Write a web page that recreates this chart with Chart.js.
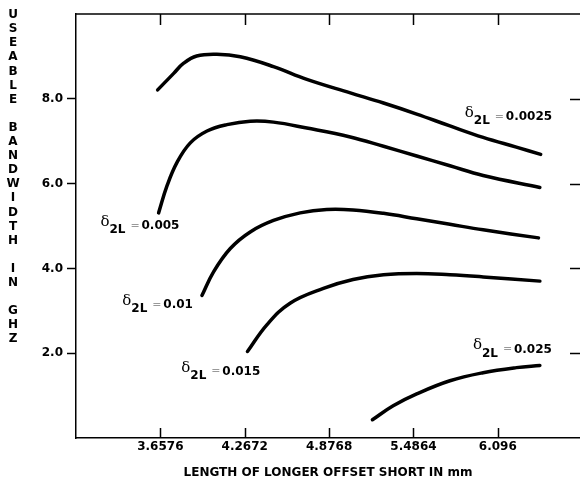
<!DOCTYPE html>
<html>
<head>
<meta charset="utf-8">
<script src="https://cdn.jsdelivr.net/npm/chart.js@4.4.1/dist/chart.umd.min.js"></script>
<style>
  body { margin: 0; background: #fff; }
  #wrap { width: 580px; height: 489px; }
</style>
</head>
<body>
<div id="wrap"><canvas id="chart" width="580" height="489"></canvas></div>
<script>
// ---- data ----
const xTicks = [3.6576, 4.2672, 4.8768, 5.4864, 6.096];
const xTickLabels = ['3.6576', '4.2672', '4.8768', '5.4864', '6.096'];
const yTicks = [2, 4, 6, 8];
const yTickLabels = ['2.0', '4.0', '6.0', '8.0'];

const curveNames = ['0.0025', '0.005', '0.01', '0.015', '0.025'];

const x0025 = [3.638, 3.754, 3.826, 3.92, 4.066, 4.235, 4.475, 4.716, 5.03, 5.27, 5.51, 5.75, 5.99, 6.23, 6.406];
const y0025 = [8.21, 8.60, 8.84, 9.01, 9.05, 8.99, 8.76, 8.46, 8.14, 7.90, 7.64, 7.36, 7.09, 6.86, 6.69];

const x005 = [3.645, 3.706, 3.778, 3.874, 3.995, 4.139, 4.307, 4.475, 4.716, 5.03, 5.27, 5.51, 5.75, 5.99, 6.40];
const y005 = [5.31, 5.95, 6.50, 6.96, 7.24, 7.39, 7.47, 7.45, 7.31, 7.10, 6.88, 6.65, 6.42, 6.19, 5.91];

const x01 = [3.958, 4.042, 4.163, 4.307, 4.475, 4.668, 4.86, 5.05, 5.27, 5.51, 5.75, 5.99, 6.39];
const y01 = [3.36, 3.92, 4.47, 4.86, 5.13, 5.31, 5.39, 5.38, 5.30, 5.17, 5.04, 4.91, 4.72];

const x015 = [4.287, 4.427, 4.595, 4.836, 5.05, 5.27, 5.51, 5.75, 5.99, 6.40];
const y015 = [2.04, 2.67, 3.18, 3.53, 3.74, 3.85, 3.88, 3.85, 3.80, 3.70];

const x025 = [5.19, 5.34, 5.51, 5.75, 5.99, 6.23, 6.40];
const y025 = [0.43, 0.76, 1.04, 1.35, 1.54, 1.66, 1.71];

// where each delta label sits (data coords of the delta sign)
const labelSpots = [[5.858, 7.67], [3.225, 5.10], [3.383, 3.23], [3.809, 1.66], [5.916, 2.18]];

const yTitle = 'USEABLE BANDWIDTH IN GHZ';
const xTitle = 'LENGTH OF LONGER OFFSET SHORT IN mm';

const boldFont = { family: 'DejaVu Sans', weight: 'bold', size: 12 };

function toPoints(xs, ys) {
  return xs.map((v, i) => ({ x: v, y: ys[i] }));
}

const seriesX = [x0025, x005, x01, x015, x025];
const seriesY = [y0025, y005, y01, y015, y025];

const datasets = curveNames.map((name, i) => ({
  label: name,
  data: toPoints(seriesX[i], seriesY[i]),
  borderColor: '#000',
  borderWidth: 3.5,
  pointRadius: 0,
  fill: false,
  tension: 0.4,
  borderCapStyle: 'round',
  borderJoinStyle: 'round'
}));

// frame bits, inward ticks, stacked y title and curve labels
const extrasPlugin = {
  id: 'extras',
  afterDraw(chart) {
    const { ctx, chartArea: a, scales: { x, y } } = chart;
    ctx.save();
    ctx.strokeStyle = '#000';
    ctx.lineWidth = 1.5;

    // top edge
    ctx.beginPath();
    ctx.moveTo(a.left, a.top);
    ctx.lineTo(a.right, a.top);
    ctx.stroke();

    // inward ticks on top and bottom
    xTicks.forEach(v => {
      const px = Math.round(x.getPixelForValue(v)) + 0.5;
      ctx.beginPath();
      ctx.moveTo(px, a.top);
      ctx.lineTo(px, a.top + 11);
      ctx.moveTo(px, a.bottom);
      ctx.lineTo(px, a.bottom - 10);
      ctx.stroke();
    });

    // short ticks on the right
    yTicks.forEach(v => {
      const py = Math.round(y.getPixelForValue(v)) + 0.5;
      ctx.beginPath();
      ctx.moveTo(a.right - 10, py);
      ctx.lineTo(a.right, py);
      ctx.stroke();
    });

    // y title, one letter per line
    ctx.fillStyle = '#000';
    ctx.font = 'bold 12px "DejaVu Sans"';
    ctx.textAlign = 'center';
    ctx.textBaseline = 'middle';
    yTitle.split('').forEach((ch, i) => {
      if (ch !== ' ') ctx.fillText(ch, 13, 15 + i * 14.1);
    });

    // curve labels
    ctx.textAlign = 'left';
    curveNames.forEach((name, i) => {
      const px = x.getPixelForValue(labelSpots[i][0]);
      const py = y.getPixelForValue(labelSpots[i][1]);
      ctx.fillStyle = '#000';
      ctx.font = '15px "DejaVu Serif"';
      ctx.fillText('\u03b4', px, py);
      ctx.font = 'bold 12px "DejaVu Sans"';
      ctx.fillText('2L', px + 9, py + 8);
      ctx.fillStyle = '#999';
      ctx.font = '11px "DejaVu Sans"';
      ctx.fillText('=', px + 30, py + 4);
      ctx.fillStyle = '#000';
      ctx.font = 'bold 12px "DejaVu Sans"';
      ctx.fillText(name, px + 41, py + 4);
    });
    ctx.restore();
  }
};

const chart = new Chart(document.getElementById('chart'), {
  type: 'line',
  data: { datasets: datasets },
  plugins: [extrasPlugin],
  options: {
    responsive: false,
    animation: false,
    layout: { padding: { top: 14, right: 0, left: 0, bottom: 0 } },
    plugins: {
      legend: { display: false },
      tooltip: { enabled: false }
    },
    scales: {
      x: {
        type: 'linear',
        min: 3.048,
        max: 6.69,
        afterBuildTicks: s => { s.ticks = xTicks.map(v => ({ value: v })); },
        afterFit: s => { s.height = 51; },
        grid: { drawOnChartArea: false, drawTicks: false },
        border: { display: true, color: '#000', width: 1.5 },
        ticks: {
          color: '#000',
          font: boldFont,
          padding: 2,
          maxRotation: 0,
          callback: (v, i) => xTickLabels[i]
        },
        title: {
          display: true,
          text: xTitle,
          color: '#000',
          font: boldFont,
          padding: { top: 0, bottom: 9 }
        }
      },
      y: {
        min: 0,
        max: 10,
        afterBuildTicks: s => { s.ticks = yTicks.map(v => ({ value: v })); },
        afterFit: s => { s.width = 76; },
        grid: { drawOnChartArea: false, drawTicks: true, tickLength: 9, tickColor: '#000', tickWidth: 1.5 },
        border: { display: true, color: '#000', width: 1.5 },
        ticks: {
          color: '#000',
          font: boldFont,
          padding: 4,
          callback: (v, i) => yTickLabels[i]
        }
      }
    }
  }
});
</script>
</body>
</html>
